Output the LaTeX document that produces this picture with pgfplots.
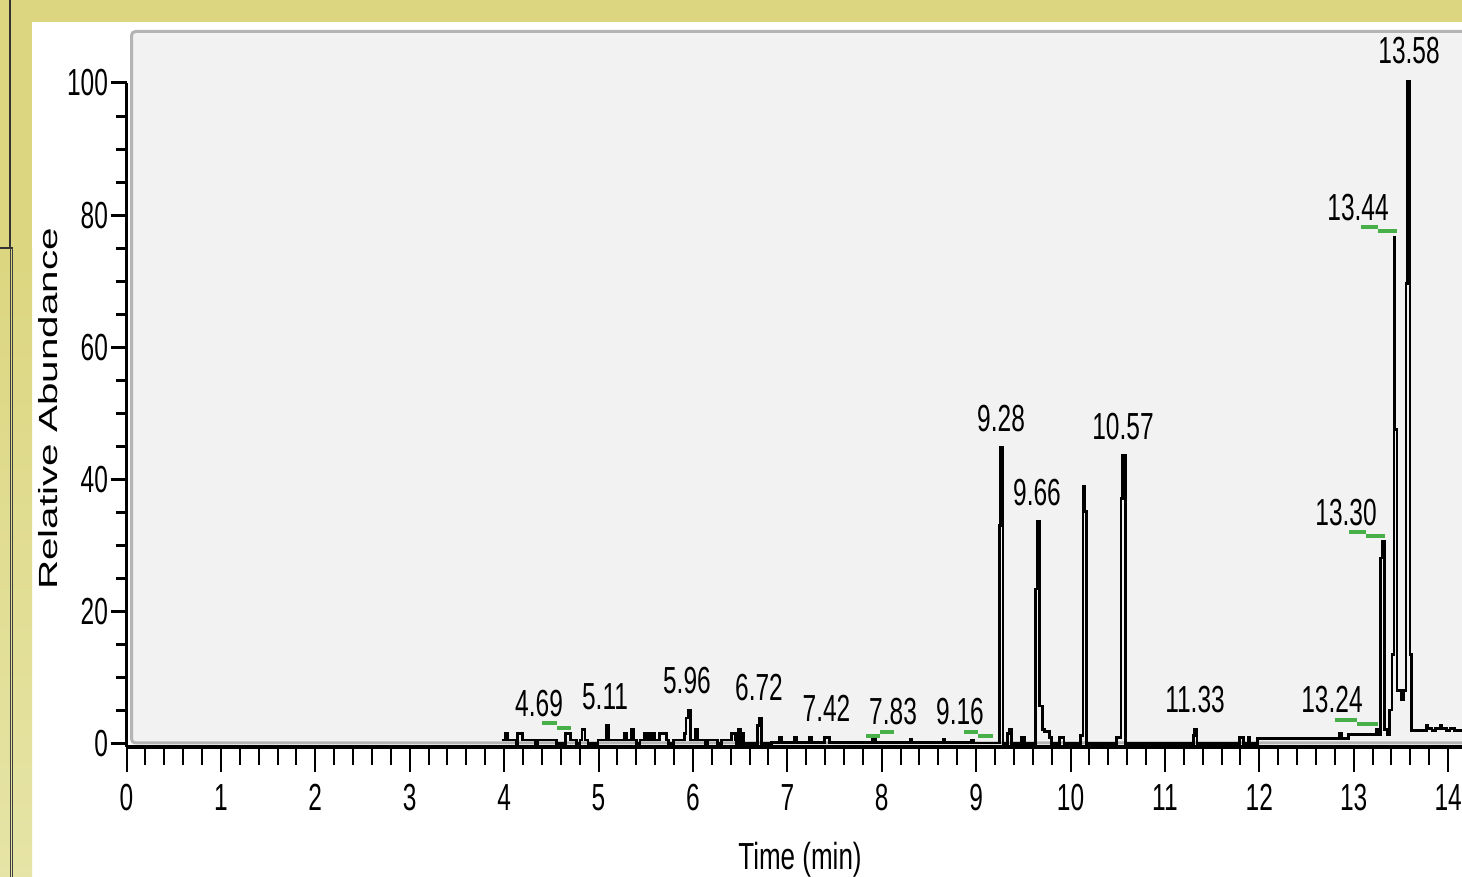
\documentclass[border=0pt]{standalone}
\usepackage{pgfplots}
\pgfplotsset{compat=1.18}
\usepackage{fontspec}
\setmainfont{Liberation Sans}
\newfontfamily\nf[FakeStretch=0.65]{Liberation Sans}
\newfontfamily\nfl[FakeStretch=0.69]{Liberation Sans}
\definecolor{yelA}{HTML}{DCD680}
\definecolor{yelB}{HTML}{E6E4A6}
\definecolor{plotbg}{HTML}{F2F2F2}
\definecolor{plotbd}{HTML}{B4B4B4}
\definecolor{mkgreen}{HTML}{48B048}
\newcommand{\lab}{\nf\fontsize{37.7}{40}\selectfont}
\begin{document}
\begin{tikzpicture}[x=1pt,y=1pt]
\useasboundingbox (0,0) rectangle (1462,877);
\fill[white] (0,0) rectangle (1462,877);
\fill[yelA] (0,855) rectangle (1462,877);
\fill[yelA] (0,629) rectangle (32,855);
\shade[top color=yelA, bottom color=yelB] (0,0) rectangle (32,629);
\draw[black!80, line width=1.2] (10,877) -- (10,629);
\draw[black!80, line width=1.2] (0,629) -- (12.7,629);
\draw[black!75, line width=1] (10,629) -- (10,0);
\draw[black!75, line width=1] (12.2,629) -- (12.2,0);
\fill[plotbg] (132,134) rectangle (1462,846);
\draw[plotbd, line width=3, rounded corners=4] (1464,134) -- (131.5,134) -- (131.5,845.5) -- (1464,845.5);
% y-axis with its ticks
\begin{axis}[
  at={(126.5pt,130pt)}, anchor=south west,
  scale only axis, width=1335.5pt, height=664pt,
  xmin=0, xmax=14.147, ymin=-0.5, ymax=100,
  axis x line*=bottom, axis y line*=left,
  x axis line style={draw=none}, xtick=\empty,
  y axis line style={line width=3pt, black},
  ytick={0,20,...,100}, minor y tick num=3,
  tick align=outside, major tick length=16pt, minor tick length=11pt,
  ytick style={line width=3pt, black},
  minor y tick style={line width=3pt, black},
  /pgf/number format/assume math mode=true,
  yticklabel style={font=\lab, inner sep=0pt, outer sep=0pt, anchor=east, xshift=-2.5pt},
]
\end{axis}
% x-axis and data
\begin{axis}[
  at={(126.5pt,130pt)}, anchor=south west,
  scale only axis, width=1335.5pt, height=664pt,
  xmin=0, xmax=14.147, ymin=-0.5, ymax=100,
  clip=false,
  axis x line*=bottom, axis y line*=left,
  y axis line style={draw=none}, ytick=\empty,
  x axis line style={line width=4pt, black},
  xtick={0,1,...,14}, minor x tick num=4,
  tick align=outside, major tick length=25pt, minor tick length=18pt,
  xtick style={line width=2pt, black},
  minor x tick style={line width=2pt, black},
  /pgf/number format/assume math mode=true,
  xticklabel style={font=\lab, inner sep=0pt, outer sep=0pt, anchor=north, yshift=-12.5pt},
]
\addplot[black, line width=2.8pt, const plot, mark=none] coordinates {
(3.975,0.55)
(4.015,1.5)(4.036,0.55)
(4.126,0)(4.142,1.5)(4.195,0.55)
(4.327,0)(4.352,0.55)
(4.557,0)(4.650,1.5)(4.703,0.55)
(4.769,0)(4.804,0.55)
(4.826,2.1)(4.857,0.55)
(4.889,0)(4.995,0.55)
(5.085,2.7)(5.106,0.55)
(5.275,1.5)(5.297,0.55)
(5.350,2.1)(5.371,0.55)
(5.404,0)(5.440,0.55)
(5.487,1.5)(5.510,0.55)(5.525,1.5)(5.545,0.55)(5.570,1.5)(5.593,0.55)
(5.646,1.5)(5.720,0.55)
(5.740,0)(5.792,0.55)
(5.911,1.5)(5.927,3.9)(5.948,5.1)(5.972,0.55)
(6.028,2.1)(6.049,0.55)
(6.128,0)(6.153,0.55)
(6.259,0)(6.305,0.55)
(6.409,1.5)(6.451,0.55)
(6.464,0)(6.483,2.1)(6.505,0)(6.520,1.5)(6.536,0)
(6.684,2.7)(6.708,3.9)(6.730,0)
(6.834,0.2)
(6.917,1.0)(6.939,0.2)
(7.076,0.9)(7.097,0.2)
(7.235,0.9)(7.256,0.2)
(7.394,0.9)(7.447,0.2)
(7.90,0.7)(7.93,0.15)
(8.30,0.7)(8.32,0.15)
(8.65,0.6)(8.67,0.15)
(8.95,0.5)(8.97,0.1)
(9.250,33.0)(9.262,44.8)(9.285,0.05)
(9.333,1.6)(9.352,2.1)(9.375,0.05)
(9.481,0.9)(9.51,0.05)
(9.632,23.4)(9.648,33.6)(9.668,5.7)(9.703,2.1)(9.725,1.8)(9.778,0.9)(9.799,0.05)
(9.883,0.9)(9.93,0.05)
(10.106,1.3)(10.133,38.9)(10.152,35.2)(10.170,0.05)
(10.487,0.9)(10.535,37.1)(10.553,43.6)(10.580,0.05)
(11.300,1.2)(11.315,2.1)(11.340,0.05)
(11.790,0.9)(11.83,0.05)
(11.886,0.9)(11.90,0.05)
(11.98,0.75)
(12.85,1.6)(12.87,0.75)
(12.945,1.4)
(13.240,2.1)(13.26,1.4)
(13.284,28.1)(13.300,30.6)(13.322,2.1)(13.358,1.4)(13.379,5.1)(13.405,13.5)
(13.427,76.7)(13.438,47.5)(13.458,8.0)(13.500,6.6)(13.530,8.0)
(13.553,69.7)(13.570,100.3)(13.595,13.5)(13.615,2.0)
(13.771,2.8)(13.785,2.3)(13.83,2.0)(13.87,2.3)(13.92,2.8)(13.935,2.3)(13.98,2.0)(14.02,2.3)(14.07,2.0)(14.147,2.0)
};
% integration markers
\addplot[mkgreen, line width=4pt] coordinates {(4.402,3.06)(4.561,3.06)};
\addplot[mkgreen, line width=4pt] coordinates {(4.561,2.38)(4.709,2.38)};
\addplot[mkgreen, line width=4pt] coordinates {(7.834,1.17)(7.982,1.17)};
\addplot[mkgreen, line width=4pt] coordinates {(7.982,1.77)(8.130,1.77)};
\addplot[mkgreen, line width=4pt] coordinates {(8.872,1.77)(9.020,1.77)};
\addplot[mkgreen, line width=4pt] coordinates {(9.020,1.17)(9.179,1.17)};
\addplot[mkgreen, line width=4pt] coordinates {(12.801,3.59)(13.034,3.59)};
\addplot[mkgreen, line width=4pt] coordinates {(13.034,2.98)(13.257,2.98)};
\addplot[mkgreen, line width=4pt] coordinates {(12.950,32.04)(13.130,32.04)};
\addplot[mkgreen, line width=4pt] coordinates {(13.130,31.44)(13.331,31.44)};
\addplot[mkgreen, line width=4pt] coordinates {(13.077,78.14)(13.257,78.14)};
\addplot[mkgreen, line width=4pt] coordinates {(13.257,77.53)(13.458,77.53)};
% peak labels
\node[font=\lab, inner sep=0pt] at (axis cs:4.370,6.01) {4.69};
\node[font=\lab, inner sep=0pt] at (axis cs:5.069,7.07) {5.11};
\node[font=\lab, inner sep=0pt] at (axis cs:5.937,9.49) {5.96};
\node[font=\lab, inner sep=0pt] at (axis cs:6.700,8.43) {6.72};
\node[font=\lab, inner sep=0pt] at (axis cs:7.415,5.33) {7.42};
\node[font=\lab, inner sep=0pt] at (axis cs:8.120,4.80) {7.83};
\node[font=\lab, inner sep=0pt] at (axis cs:8.829,4.80) {9.16};
\node[font=\lab, inner sep=0pt] at (axis cs:9.264,49.15) {9.28};
\node[font=\lab, inner sep=0pt] at (axis cs:9.645,37.95) {9.66};
\node[font=\lab, inner sep=0pt] at (axis cs:10.556,47.93) {10.57};
\node[font=\lab, inner sep=0pt] at (axis cs:11.319,6.61) {11.33};
\node[font=\lab, inner sep=0pt] at (axis cs:12.770,6.61) {13.24};
\node[font=\lab, inner sep=0pt] at (axis cs:12.919,34.99) {13.30};
\node[font=\lab, inner sep=0pt] at (axis cs:13.046,81.16) {13.44};
\node[font=\lab, inner sep=0pt] at (axis cs:13.586,104.84) {13.58};
\end{axis}
\node[anchor=base, inner sep=0pt] at (800,7) {\nfl\fontsize{37.7}{40}\selectfont Time (min)};
\node[rotate=90, anchor=base, inner sep=0pt] at (57,468) {\scalebox{1}[0.65]{\fontsize{40.4}{42}\selectfont Relative Abundance}};
\end{tikzpicture}
\end{document}
